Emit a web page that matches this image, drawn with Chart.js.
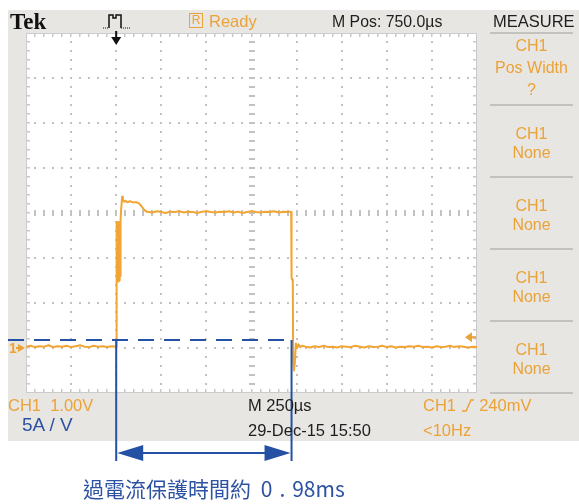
<!DOCTYPE html>
<html>
<head>
<meta charset="utf-8">
<script src="https://cdn.jsdelivr.net/npm/chart.js@4.4.1/dist/chart.umd.min.js"></script>
<style>
  body { margin: 0; background: #fff; }
  #wrap { position: relative; width: 579px; height: 504px; overflow: hidden; font-family: "Liberation Sans", Arial, sans-serif; }
  #panel { position: absolute; left: 8px; top: 10px; width: 571px; height: 431px; background: #e8e6e3; }
  canvas { position: absolute; left: 0; top: 0; }
  .t { position: absolute; white-space: pre; line-height: 1; font-size: 16.5px; color: #1e1e1e; }
  .or { color: #eba236; }
  .bl { color: #2d52a3; }
  .sep { position: absolute; left: 490px; width: 83px; height: 2px; background: #c4c2bf; }
  .m { position: absolute; left: 490px; width: 83px; text-align: center; line-height: 1; font-size: 16px; color: #eba236; }
</style>
</head>
<body>
<div id="wrap">
  <div id="panel"></div>
  <canvas id="scope" width="579" height="504"></canvas>

  <div class="t" style="left:10px;top:10px;font-family:'Liberation Serif',serif;font-weight:bold;font-size:23px;color:#111;">Tek</div>
  <svg style="position:absolute;left:102px;top:12px" width="30" height="18">
    <path d="M1 16 H7" fill="none" stroke="#111" stroke-width="1" stroke-dasharray="1 1"/>
    <path d="M7 16 V3 H11 V6 H14 V3 H19 V16" fill="none" stroke="#111" stroke-width="1.5"/>
    <path d="M19 16 H29" fill="none" stroke="#111" stroke-width="1" stroke-dasharray="1 1"/>
  </svg>
  <div style="position:absolute;left:189px;top:13px;width:12px;height:13px;border:1.5px solid #eba236;color:#eba236;font-size:12px;line-height:13px;text-align:center;">R</div>
  <div class="t or" style="left:209px;top:13px;">Ready</div>
  <div class="t" style="left:332px;top:13px;transform:scaleX(0.96);transform-origin:left;">M Pos: 750.0µs</div>
  <div class="t" style="left:493px;top:13px;">MEASURE</div>

  <div class="sep" style="top:32px"></div>
  <div class="sep" style="top:104px"></div>
  <div class="sep" style="top:176px"></div>
  <div class="sep" style="top:248px"></div>
  <div class="sep" style="top:320px"></div>
  <div class="sep" style="top:392px"></div>

  <div class="m" style="top:38px">CH1</div>
  <div class="m" style="top:60px">Pos Width</div>
  <div class="m" style="top:82px">?</div>
  <div class="m" style="top:126px">CH1</div>
  <div class="m" style="top:145px">None</div>
  <div class="m" style="top:198px">CH1</div>
  <div class="m" style="top:217px">None</div>
  <div class="m" style="top:270px">CH1</div>
  <div class="m" style="top:289px">None</div>
  <div class="m" style="top:342px">CH1</div>
  <div class="m" style="top:361px">None</div>

  <div class="t or" style="left:8px;top:397px;">CH1  1.00V</div>
  <div class="t bl" style="left:22px;top:415px;font-size:19px;">5A / V</div>
  <div class="t" style="left:248px;top:397px;">M 250µs</div>
  <div class="t" style="left:248px;top:422px;">29-Dec-15 15:50</div>
  <div class="t or" style="left:423px;top:397px;">CH1 <svg width="14" height="13" style="vertical-align:-1px"><path d="M1 12 H5 L10 1 H13" fill="none" stroke="#eba236" stroke-width="1.5"/></svg> 240mV</div>
  <div class="t or" style="left:423px;top:422px;">&lt;10Hz</div>

  <div class="t bl" style="left:83px;top:478px;font-family:'Noto Sans CJK TC',sans-serif;font-size:21px;">過電流保護時間約 <span style="margin-left:5px">0</span><span style="margin:0 7px">.</span>98ms</div>
</div>

<script>
// time in µs (trigger at 0), CH1 in volts (1.00 V/div)
const timeUs = [
  -500, -475, -450, -425, -400, -375, -350, -325, -300, -275, -250, -225, -200, -175, -150, -125, -100, -75, -50, -25, 0,
  1, 2, 4, 6, 8, 10, 12, 14, 16, 18, 20, 22, 24, 27, 33, 37, 44, 52, 62, 76, 92, 110, 125, 140, 155, 168,
  175, 200, 225, 250, 275, 300, 325, 350, 375, 400, 425, 450, 475, 500, 525, 550, 575, 600, 625, 650, 675, 700, 725, 750, 775, 800, 825, 850, 875, 900, 925, 950,
  962, 970, 972, 975, 979, 981, 985, 990, 996, 1003, 1010, 1020, 1030,
  1050, 1075, 1100, 1125, 1150, 1175, 1200, 1225, 1250, 1275, 1300, 1325, 1350, 1375, 1400, 1425, 1450, 1475, 1500, 1525,
  1550, 1575, 1600, 1625, 1650, 1675, 1700, 1725, 1750, 1775, 1800, 1825, 1850, 1875, 1900, 1925, 1950, 1975, 2000
];
const ch1Volts = [
  0.03, 0.05, 0.02, 0.04, 0.03, 0.06, 0.02, 0.04, 0.03, 0.05, 0.02, 0.04, 0.06, 0.03, 0.02, 0.05, 0.03, 0.04, 0.02, 0.04, 0.03,
  0.1, 1.47, 2.8, 1.5, 2.78, 1.48, 2.8, 1.55, 2.75, 1.5, 2.8, 1.6, 2.82, 3.05, 3.36, 3.3, 3.25, 3.27, 3.24, 3.26, 3.24, 3.24, 3.22, 3.15, 3.07, 3.03,
  3.03, 3.01, 3.04, 3.02, 3.0, 3.03, 3.02, 3.04, 3.01, 3.03, 3.02, 3.0, 3.03, 3.04, 3.02, 3.01, 3.03, 3.02, 3.04, 3.01, 3.03, 3.0, 3.02, 3.04, 3.02, 3.01, 3.03, 3.02, 3.04, 3.01, 3.03, 3.02,
  3.03, 3.02, 1.56, 1.52, 1.5, -0.3, -0.5, -0.35, 0.1, 0.0, 0.08, 0.02, 0.05,
  0.03, 0.01, 0.04, 0.02, 0.05, 0.02, 0.03, 0.01, 0.04, 0.03, 0.02, 0.05, 0.03, 0.01, 0.04, 0.02, 0.03, 0.05, 0.02, 0.04,
  0.01, 0.03, 0.02, 0.04, 0.03, 0.05, 0.02, 0.03, 0.01, 0.04, 0.02, 0.03, 0.05, 0.02, 0.04, 0.03, 0.01, 0.03, 0.02
];

// screen: 10 x 250µs, 8 x 1V
const xRange = [-500, 2000];
const yRange = [-1, 7];
const xDiv = 250;
const yDiv = 1;
const triggerLevel = 0.24;

// blue annotation: pulse width marks
const markLevel = 0.18;
const widthStart = 0;
const widthEnd = 972;

const traceColor = "#f2a533";
const blue = "#2451a4";

const graticule = {
  id: "graticule",
  beforeDatasetsDraw(chart) {
    const { ctx, chartArea: a, scales: { x, y } } = chart;
    const nx = (xRange[1] - xRange[0]) / xDiv;
    const ny = (yRange[1] - yRange[0]) / yDiv;
    const cxVal = xRange[0] + xDiv * nx / 2;
    const cyVal = yRange[0] + yDiv * ny / 2;
    ctx.save();
    ctx.fillStyle = "#ffffff";
    ctx.fillRect(a.left, a.top, a.width, a.height);

    ctx.fillStyle = "#c2c2c2";
    // dotted verticals
    for (let i = 1; i < nx; i++) {
      if (i === nx / 2) continue;
      const px = Math.round(x.getPixelForValue(xRange[0] + i * xDiv));
      for (let j = 1; j < ny * 5; j++) {
        const py = Math.round(y.getPixelForValue(yRange[0] + j * yDiv / 5));
        ctx.fillRect(px - 1, py - 1, 2, 2);
      }
    }
    // dotted horizontals
    for (let j = 1; j < ny; j++) {
      if (j === ny / 2) continue;
      const py = Math.round(y.getPixelForValue(yRange[0] + j * yDiv));
      for (let i = 1; i < nx * 5; i++) {
        const px = Math.round(x.getPixelForValue(xRange[0] + i * xDiv / 5));
        ctx.fillRect(px - 1, py - 1, 2, 2);
      }
    }
    // centre cross with minor ticks
    const cx = Math.round(x.getPixelForValue(cxVal));
    const cy = Math.round(y.getPixelForValue(cyVal));
    for (let j = 1; j < ny * 5; j++) {
      const py = Math.round(y.getPixelForValue(yRange[0] + j * yDiv / 5));
      ctx.fillRect(cx - 3, py - 1, 6, 2);
    }
    for (let i = 1; i < nx * 5; i++) {
      const px = Math.round(x.getPixelForValue(xRange[0] + i * xDiv / 5));
      ctx.fillRect(px - 1, cy - 3, 2, 6);
    }
    // frame ticks
    ctx.fillStyle = "#c9c9c9";
    for (let i = 1; i < nx * 5; i++) {
      const px = Math.round(x.getPixelForValue(xRange[0] + i * xDiv / 5));
      ctx.fillRect(px - 1, a.top, 1.5, 4);
      ctx.fillRect(px - 1, a.bottom - 4, 1.5, 4);
    }
    for (let j = 1; j < ny * 5; j++) {
      const py = Math.round(y.getPixelForValue(yRange[0] + j * yDiv / 5));
      ctx.fillRect(a.left, py - 1, 4, 1.5);
      ctx.fillRect(a.right - 4, py - 1, 4, 1.5);
    }
    ctx.strokeStyle = "#cbcbcb";
    ctx.lineWidth = 1;
    ctx.strokeRect(a.left + 0.5, a.top + 0.5, a.width - 1, a.height - 1);
    ctx.restore();
  }
};

const markers = {
  id: "markers",
  afterDatasetsDraw(chart) {
    const { ctx, chartArea: a, scales: { x, y } } = chart;
    ctx.save();

    // ground marker "1>"
    const gy = y.getPixelForValue(0);
    ctx.fillStyle = "#eba236";
    ctx.font = "bold 14px 'Liberation Sans', Arial";
    ctx.textBaseline = "middle";
    ctx.fillText("1", 9, gy + 1);
    ctx.beginPath();
    ctx.moveTo(25, gy);
    ctx.lineTo(18, gy - 4);
    ctx.lineTo(18, gy + 4);
    ctx.closePath();
    ctx.fill();
    ctx.fillRect(16, gy - 1, 4, 2);

    // trigger level arrow at right edge
    const ty = y.getPixelForValue(triggerLevel);
    ctx.beginPath();
    ctx.moveTo(a.right - 12, ty);
    ctx.lineTo(a.right - 5, ty - 5);
    ctx.lineTo(a.right - 5, ty + 5);
    ctx.closePath();
    ctx.fill();
    ctx.fillRect(a.right - 6, ty - 1, 5, 2);

    // trigger position arrow
    const tx = x.getPixelForValue(0);
    ctx.fillStyle = "#111";
    ctx.fillRect(tx - 1, a.top - 2, 2, 6);
    ctx.beginPath();
    ctx.moveTo(tx - 5, a.top + 4);
    ctx.lineTo(tx + 5, a.top + 4);
    ctx.lineTo(tx, a.top + 12);
    ctx.closePath();
    ctx.fill();

    // blue annotation
    const x0 = x.getPixelForValue(widthStart);
    const x1 = x.getPixelForValue(widthEnd);
    const yl = y.getPixelForValue(markLevel);
    const ay = 453;
    ctx.strokeStyle = blue;
    ctx.fillStyle = blue;
    ctx.lineWidth = 2;
    ctx.setLineDash([16, 10]);
    ctx.beginPath();
    ctx.moveTo(8, yl);
    ctx.lineTo(x1, yl);
    ctx.stroke();
    ctx.setLineDash([]);
    ctx.beginPath();
    ctx.moveTo(x0, yl);
    ctx.lineTo(x0, 461);
    ctx.moveTo(x1, yl);
    ctx.lineTo(x1, 461);
    ctx.moveTo(x0 + 20, ay);
    ctx.lineTo(x1 - 20, ay);
    ctx.stroke();
    ctx.beginPath();
    ctx.moveTo(x0 + 1, ay);
    ctx.lineTo(x0 + 27, ay - 8);
    ctx.lineTo(x0 + 27, ay + 8);
    ctx.closePath();
    ctx.moveTo(x1 - 1, ay);
    ctx.lineTo(x1 - 27, ay - 8);
    ctx.lineTo(x1 - 27, ay + 8);
    ctx.closePath();
    ctx.fill();
    ctx.restore();
  }
};

const ctx = document.getElementById("scope").getContext("2d");
new Chart(ctx, {
  type: "line",
  data: {
    datasets: [
      {
        label: "CH1",
        data: timeUs.map((t, i) => ({ x: t, y: ch1Volts[i] })),
        borderColor: traceColor,
        borderWidth: 2,
        borderJoinStyle: "round",
        pointRadius: 0,
        tension: 0,
        fill: false,
      },
    ],
  },
  options: {
    responsive: false,
    animation: false,
    devicePixelRatio: 1,
    layout: { padding: { left: 26, top: 33, right: 102, bottom: 111 } },
    plugins: { legend: { display: false }, tooltip: { enabled: false } },
    scales: {
      x: { type: "linear", display: false, min: xRange[0], max: xRange[1] },
      y: { type: "linear", display: false, min: yRange[0], max: yRange[1] },
    },
  },
  plugins: [graticule, markers],
});
</script>
</body>
</html>
